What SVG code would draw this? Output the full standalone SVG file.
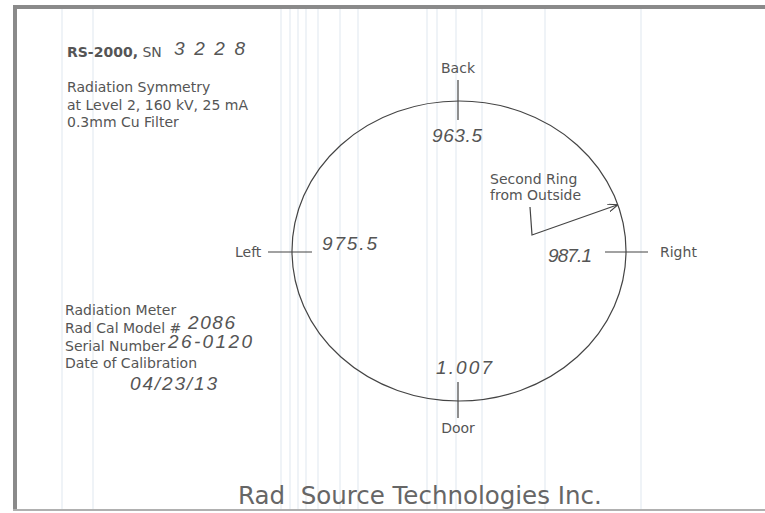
<svg xmlns="http://www.w3.org/2000/svg" width="765" height="513" viewBox="0 0 765 513">
<style>
.t{font-family:"DejaVu Sans","Liberation Sans",sans-serif;font-size:14px;fill:#555}
.b{font-weight:bold}
.h{font-family:"Liberation Sans","DejaVu Sans",sans-serif;font-style:italic;font-size:19px;fill:#555}
.ln{stroke:#444;stroke-width:1.2;fill:none}
.scan{stroke:#dfe7ef;stroke-width:1}
.foot{font-family:"DejaVu Sans","Liberation Sans",sans-serif;font-size:24.5px;fill:#666;white-space:pre}
</style>
<defs>
<marker id="ah" markerWidth="10" markerHeight="8" refX="9" refY="4" orient="auto" markerUnits="userSpaceOnUse">
<path d="M0,0 L10,4 L0,8" fill="none" stroke="#444" stroke-width="1.1"/>
</marker>
</defs>
<rect width="765" height="513" fill="#fff"/>
<g id="scan-lines">
<line class="scan" x1="62" y1="9" x2="62" y2="511"/>
<line class="scan" x1="93" y1="9" x2="93" y2="511"/>
<line class="scan" x1="281" y1="9" x2="281" y2="511"/>
<line class="scan" x1="290" y1="9" x2="290" y2="511"/>
<line class="scan" x1="298" y1="9" x2="298" y2="511"/>
<line class="scan" x1="306" y1="9" x2="306" y2="511"/>
<line class="scan" x1="318" y1="9" x2="318" y2="511"/>
<line class="scan" x1="340" y1="9" x2="340" y2="511"/>
<line class="scan" x1="358" y1="9" x2="358" y2="511"/>
<line class="scan" x1="427" y1="9" x2="427" y2="511"/>
<line class="scan" x1="437" y1="9" x2="437" y2="511"/>
<line class="scan" x1="456" y1="9" x2="456" y2="511"/>
<line class="scan" x1="482" y1="9" x2="482" y2="511"/>
<line class="scan" x1="545" y1="9" x2="545" y2="511"/>
<line class="scan" x1="641" y1="9" x2="641" y2="511"/>
</g>
<g id="frame">
<rect x="13" y="5" width="752" height="4" fill="#8a8a8a"/>
<rect x="13" y="5" width="4" height="506" fill="#8a8a8a"/>
<rect x="13" y="509" width="752" height="2" fill="#b0b0b0"/>
</g>
<g id="header">
<text class="t b" x="67" y="57">RS-2000,<tspan font-weight="normal"> SN</tspan></text>
<text class="h" x="174" y="55" textLength="71" lengthAdjust="spacing">3228</text>
<text class="t" x="67" y="92">Radiation Symmetry</text>
<text class="t" x="67" y="110">at Level 2, 160 kV, 25 mA</text>
<text class="t" x="67" y="127">0.3mm Cu Filter</text>
</g>
<g id="meter">
<text class="t" x="65" y="315">Radiation Meter</text>
<text class="t" x="65" y="333">Rad Cal Model #</text>
<text class="h" x="188" y="329" textLength="47" lengthAdjust="spacing">2086</text>
<text class="t" x="65" y="351">Serial Number</text>
<text class="h" x="168" y="348" textLength="84" lengthAdjust="spacing">26-0120</text>
<text class="t" x="65" y="368">Date of Calibration</text>
<text class="h" x="130" y="390" textLength="87" lengthAdjust="spacing">04/23/13</text>
</g>
<g id="ring">
<ellipse class="ln" cx="459" cy="251" rx="167" ry="150"/>
</g>
<g id="connectors">
<line class="ln" x1="458" y1="80" x2="458" y2="120"/>
<line class="ln" x1="458" y1="382" x2="458" y2="418"/>
<line class="ln" x1="268" y1="252" x2="312" y2="252"/>
<line class="ln" x1="605" y1="252" x2="648" y2="252"/>
<polyline class="ln" points="530,207 532,235 617,205" marker-end="url(#ah)"/>
</g>
<g id="back"><text class="t" x="458" y="73" text-anchor="middle">Back</text><text class="h" x="432" y="142" textLength="50" lengthAdjust="spacing">963.5</text></g>
<g id="door"><text class="t" x="458" y="433" text-anchor="middle">Door</text><text class="h" x="436" y="374" textLength="56" lengthAdjust="spacing">1.007</text></g>
<g id="left"><text class="t" x="235" y="257">Left</text><text class="h" x="322" y="250" textLength="55" lengthAdjust="spacing">975.5</text></g>
<g id="right"><text class="t" x="660" y="257">Right</text><text class="h" x="548" y="262" textLength="44" lengthAdjust="spacing">987.1</text></g>
<g id="note"><text class="t" x="490" y="184">Second Ring</text><text class="t" x="490" y="200">from Outside</text></g>
<text class="foot" x="238" y="504">Rad  Source Technologies Inc.</text>
</svg>
